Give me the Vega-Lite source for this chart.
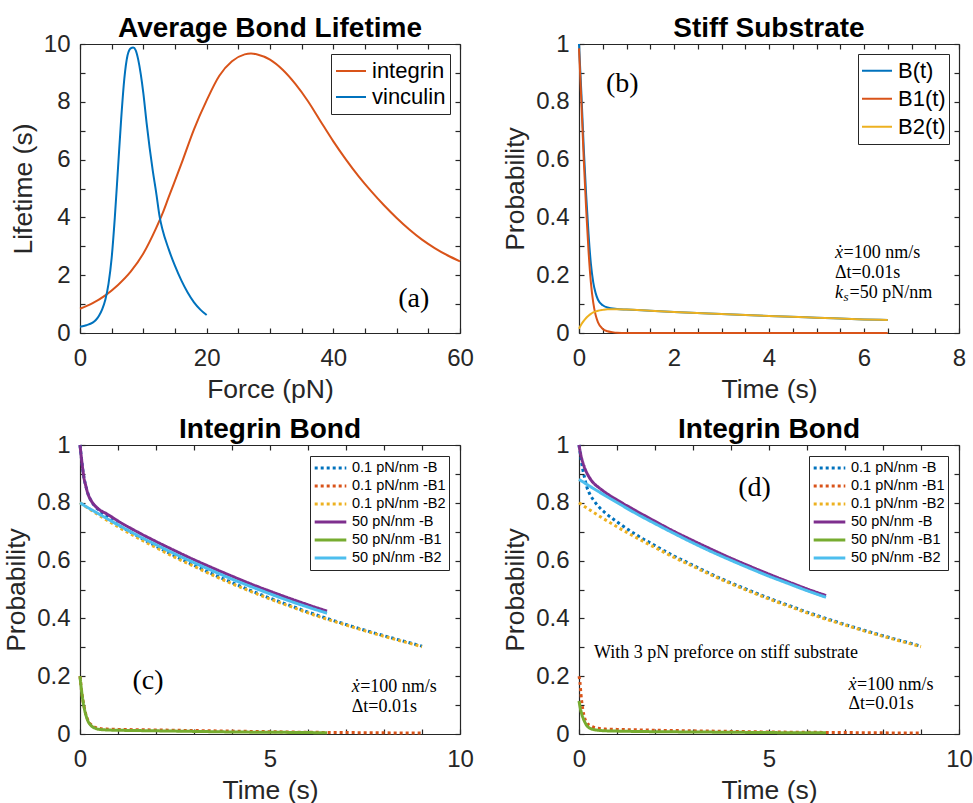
{
  "$schema": "https://vega.github.io/schema/vega-lite/v6.json",
  "background": "white",
  "padding": {"left": 3, "top": 15, "right": 0, "bottom": 0},
  "columns": 2,
  "spacing": {"row": 112, "column": 119},
  "bounds": "flush",
  "config": {
    "font": "Liberation Sans",
    "view": {"stroke": null},
    "axis": {
      "grid": false,
      "domainColor": "#262626",
      "domainWidth": 1.2,
      "tickColor": "#262626",
      "tickWidth": 1.2,
      "tickSize": -5,
      "labelFont": "Liberation Sans",
      "labelFontSize": 24,
      "labelColor": "#262626",
      "labelFlush": false,
      "labelOverlap": false,
      "titleFont": "Liberation Sans",
      "titleFontSize": 26.5,
      "titleFontWeight": "normal",
      "titleColor": "#262626"
    },
    "axisX": {"labelPadding": 18, "titlePadding": 6},
    "axisY": {"labelPadding": 15, "titlePadding": 6},
    "title": {"font": "Liberation Sans", "fontSize": 28, "fontWeight": "bold", "color": "#000000", "offset": -11, "anchor": "middle", "frame": "group"}
  },
  "resolve": {
    "scale": {"color": "independent", "strokeDash": "independent", "strokeWidth": "independent"},
    "legend": {"color": "independent", "strokeDash": "independent"}
  },
  "concat": [
    {
      "width": 380,
      "height": 289,
      "title": {"text": "Average Bond Lifetime"},
      "resolve": {"axis": {"x": "independent", "y": "independent"}},
      "layer": [
        {
          "data": {"values": [
            {"bond": "integrin", "force": 0, "lifetime": 0.84},
            {"bond": "integrin", "force": 2, "lifetime": 1.03},
            {"bond": "integrin", "force": 4, "lifetime": 1.3},
            {"bond": "integrin", "force": 6, "lifetime": 1.66},
            {"bond": "integrin", "force": 8, "lifetime": 2.12},
            {"bond": "integrin", "force": 10, "lifetime": 2.75},
            {"bond": "integrin", "force": 12, "lifetime": 3.62},
            {"bond": "integrin", "force": 13, "lifetime": 4.12},
            {"bond": "integrin", "force": 14, "lifetime": 4.7},
            {"bond": "integrin", "force": 16, "lifetime": 5.85},
            {"bond": "integrin", "force": 18, "lifetime": 7.05},
            {"bond": "integrin", "force": 20, "lifetime": 8.05},
            {"bond": "integrin", "force": 22, "lifetime": 8.9},
            {"bond": "integrin", "force": 24, "lifetime": 9.4},
            {"bond": "integrin", "force": 26, "lifetime": 9.64},
            {"bond": "integrin", "force": 27, "lifetime": 9.67},
            {"bond": "integrin", "force": 28, "lifetime": 9.64},
            {"bond": "integrin", "force": 30, "lifetime": 9.46},
            {"bond": "integrin", "force": 32, "lifetime": 9.11},
            {"bond": "integrin", "force": 34, "lifetime": 8.62},
            {"bond": "integrin", "force": 36, "lifetime": 8.02},
            {"bond": "integrin", "force": 38, "lifetime": 7.32},
            {"bond": "integrin", "force": 40, "lifetime": 6.63},
            {"bond": "integrin", "force": 42, "lifetime": 6.0},
            {"bond": "integrin", "force": 44, "lifetime": 5.42},
            {"bond": "integrin", "force": 46, "lifetime": 4.9},
            {"bond": "integrin", "force": 48, "lifetime": 4.42},
            {"bond": "integrin", "force": 50, "lifetime": 3.98},
            {"bond": "integrin", "force": 52, "lifetime": 3.58},
            {"bond": "integrin", "force": 54, "lifetime": 3.23},
            {"bond": "integrin", "force": 56, "lifetime": 2.94},
            {"bond": "integrin", "force": 58, "lifetime": 2.69},
            {"bond": "integrin", "force": 60, "lifetime": 2.48},
            {"bond": "vinculin", "force": 0, "lifetime": 0.22},
            {"bond": "vinculin", "force": 1, "lifetime": 0.27},
            {"bond": "vinculin", "force": 2, "lifetime": 0.36},
            {"bond": "vinculin", "force": 2.5, "lifetime": 0.45},
            {"bond": "vinculin", "force": 3, "lifetime": 0.6},
            {"bond": "vinculin", "force": 3.5, "lifetime": 0.82},
            {"bond": "vinculin", "force": 4, "lifetime": 1.15},
            {"bond": "vinculin", "force": 4.5, "lifetime": 1.7},
            {"bond": "vinculin", "force": 5, "lifetime": 2.6},
            {"bond": "vinculin", "force": 5.5, "lifetime": 4.0},
            {"bond": "vinculin", "force": 6, "lifetime": 5.7},
            {"bond": "vinculin", "force": 6.5, "lifetime": 7.4},
            {"bond": "vinculin", "force": 7, "lifetime": 8.8},
            {"bond": "vinculin", "force": 7.5, "lifetime": 9.6},
            {"bond": "vinculin", "force": 8, "lifetime": 9.85},
            {"bond": "vinculin", "force": 8.4, "lifetime": 9.88},
            {"bond": "vinculin", "force": 8.8, "lifetime": 9.78},
            {"bond": "vinculin", "force": 9.2, "lifetime": 9.45},
            {"bond": "vinculin", "force": 9.6, "lifetime": 8.95},
            {"bond": "vinculin", "force": 10, "lifetime": 8.3},
            {"bond": "vinculin", "force": 10.5, "lifetime": 7.3},
            {"bond": "vinculin", "force": 11, "lifetime": 6.4},
            {"bond": "vinculin", "force": 11.5, "lifetime": 5.6},
            {"bond": "vinculin", "force": 12, "lifetime": 4.9},
            {"bond": "vinculin", "force": 12.6, "lifetime": 3.99},
            {"bond": "vinculin", "force": 13, "lifetime": 3.6},
            {"bond": "vinculin", "force": 14, "lifetime": 2.9},
            {"bond": "vinculin", "force": 15, "lifetime": 2.32},
            {"bond": "vinculin", "force": 16, "lifetime": 1.82},
            {"bond": "vinculin", "force": 17, "lifetime": 1.4},
            {"bond": "vinculin", "force": 18, "lifetime": 1.06},
            {"bond": "vinculin", "force": 19, "lifetime": 0.81},
            {"bond": "vinculin", "force": 20, "lifetime": 0.62}
          ]},
          "mark": {"type": "line", "strokeWidth": 2, "interpolate": "monotone"},
          "encoding": {
            "x": {"field": "force", "type": "quantitative", "scale": {"domain": [0, 60], "nice": false},
              "axis": {"orient": "bottom", "title": "Force (pN)", "values": [0, 5, 10, 15, 20, 25, 30, 35, 40, 45, 50, 55, 60], "labelExpr": "datum.value % 20 === 0 ? '' + datum.value : ''"}},
            "y": {"field": "lifetime", "type": "quantitative", "scale": {"domain": [0, 10], "nice": false},
              "axis": {"orient": "left", "title": "Lifetime (s)", "values": [0, 1, 2, 3, 4, 5, 6, 7, 8, 9, 10], "labelExpr": "datum.value % 2 === 0 ? '' + datum.value : ''"}},
            "color": {"field": "bond", "type": "nominal",
              "scale": {"domain": ["integrin", "vinculin"], "range": ["#D95319", "#0072BD"]},
              "legend": {"title": null, "orient": "top-right", "offset": 10, "symbolType": "stroke", "symbolSize": 900, "symbolStrokeWidth": 2, "labelFont": "Liberation Sans", "labelFontSize": 22, "labelColor": "#000000", "strokeColor": "#262626", "fillColor": "#ffffff", "padding": 4, "clipHeight": 26, "rowPadding": 0, "labelOffset": 5}}
          }
        },
        {
          "data": {"values": [{"force": 52.7, "lifetime": 1.19, "tag": "(a)"}]},
          "mark": {"type": "text", "font": "Liberation Serif", "fontSize": 28, "align": "center", "baseline": "middle", "color": "#000000"},
          "encoding": {
            "x": {"field": "force", "type": "quantitative", "scale": {"domain": [0, 60], "nice": false},
              "axis": {"orient": "top", "title": null, "labels": false, "values": [0, 5, 10, 15, 20, 25, 30, 35, 40, 45, 50, 55, 60]}},
            "y": {"field": "lifetime", "type": "quantitative", "scale": {"domain": [0, 10], "nice": false},
              "axis": {"orient": "right", "title": null, "labels": false, "values": [0, 1, 2, 3, 4, 5, 6, 7, 8, 9, 10]}},
            "text": {"field": "tag"}
          }
        }
      ]
    },
    {
      "width": 380,
      "height": 289,
      "title": {"text": "Stiff Substrate"},
      "resolve": {"axis": {"x": "independent", "y": "independent"}},
      "layer": [
        {
          "data": {"values": [
            {"state": "B(t)", "time": 0, "prob": 1.0},
            {"state": "B(t)", "time": 0.05, "prob": 0.83},
            {"state": "B(t)", "time": 0.1, "prob": 0.64},
            {"state": "B(t)", "time": 0.15, "prob": 0.48},
            {"state": "B(t)", "time": 0.2, "prob": 0.345},
            {"state": "B(t)", "time": 0.25, "prob": 0.24},
            {"state": "B(t)", "time": 0.3, "prob": 0.175},
            {"state": "B(t)", "time": 0.35, "prob": 0.138},
            {"state": "B(t)", "time": 0.4, "prob": 0.115},
            {"state": "B(t)", "time": 0.5, "prob": 0.096},
            {"state": "B(t)", "time": 0.6, "prob": 0.088},
            {"state": "B(t)", "time": 0.8, "prob": 0.083},
            {"state": "B(t)", "time": 1.0, "prob": 0.081},
            {"state": "B(t)", "time": 1.5, "prob": 0.077},
            {"state": "B(t)", "time": 2, "prob": 0.073},
            {"state": "B(t)", "time": 3, "prob": 0.066},
            {"state": "B(t)", "time": 4, "prob": 0.059},
            {"state": "B(t)", "time": 5, "prob": 0.053},
            {"state": "B(t)", "time": 6, "prob": 0.047},
            {"state": "B(t)", "time": 6.5, "prob": 0.045},
            {"state": "B1(t)", "time": 0, "prob": 0.985},
            {"state": "B1(t)", "time": 0.05, "prob": 0.8},
            {"state": "B1(t)", "time": 0.1, "prob": 0.6},
            {"state": "B1(t)", "time": 0.15, "prob": 0.43},
            {"state": "B1(t)", "time": 0.2, "prob": 0.285},
            {"state": "B1(t)", "time": 0.25, "prob": 0.175},
            {"state": "B1(t)", "time": 0.3, "prob": 0.105},
            {"state": "B1(t)", "time": 0.35, "prob": 0.062},
            {"state": "B1(t)", "time": 0.4, "prob": 0.037},
            {"state": "B1(t)", "time": 0.5, "prob": 0.014},
            {"state": "B1(t)", "time": 0.6, "prob": 0.006},
            {"state": "B1(t)", "time": 0.7, "prob": 0.003},
            {"state": "B1(t)", "time": 0.8, "prob": 0.001},
            {"state": "B1(t)", "time": 1.0, "prob": 0},
            {"state": "B1(t)", "time": 2, "prob": 0},
            {"state": "B1(t)", "time": 4, "prob": 0},
            {"state": "B1(t)", "time": 6.5, "prob": 0},
            {"state": "B2(t)", "time": 0, "prob": 0.015},
            {"state": "B2(t)", "time": 0.05, "prob": 0.03},
            {"state": "B2(t)", "time": 0.1, "prob": 0.042},
            {"state": "B2(t)", "time": 0.15, "prob": 0.052},
            {"state": "B2(t)", "time": 0.2, "prob": 0.06},
            {"state": "B2(t)", "time": 0.25, "prob": 0.066},
            {"state": "B2(t)", "time": 0.3, "prob": 0.071},
            {"state": "B2(t)", "time": 0.4, "prob": 0.077},
            {"state": "B2(t)", "time": 0.5, "prob": 0.08},
            {"state": "B2(t)", "time": 0.6, "prob": 0.082},
            {"state": "B2(t)", "time": 0.8, "prob": 0.082},
            {"state": "B2(t)", "time": 1.0, "prob": 0.081},
            {"state": "B2(t)", "time": 1.5, "prob": 0.077},
            {"state": "B2(t)", "time": 2, "prob": 0.073},
            {"state": "B2(t)", "time": 3, "prob": 0.066},
            {"state": "B2(t)", "time": 4, "prob": 0.059},
            {"state": "B2(t)", "time": 5, "prob": 0.053},
            {"state": "B2(t)", "time": 6, "prob": 0.047},
            {"state": "B2(t)", "time": 6.5, "prob": 0.045}
          ]},
          "mark": {"type": "line", "strokeWidth": 2, "interpolate": "monotone"},
          "encoding": {
            "x": {"field": "time", "type": "quantitative", "scale": {"domain": [0, 8], "nice": false},
              "axis": {"orient": "bottom", "title": "Time (s)", "values": [0, 0.5, 1, 1.5, 2, 2.5, 3, 3.5, 4, 4.5, 5, 5.5, 6, 6.5, 7, 7.5, 8], "labelExpr": "datum.value % 2 === 0 ? '' + datum.value : ''"}},
            "y": {"field": "prob", "type": "quantitative", "scale": {"domain": [0, 1], "nice": false},
              "axis": {"orient": "left", "title": "Probability", "values": [0, 0.1, 0.2, 0.3, 0.4, 0.5, 0.6, 0.7, 0.8, 0.9, 1], "labelExpr": "round(datum.value * 10) % 2 === 0 ? '' + datum.value : ''"}},
            "color": {"field": "state", "type": "nominal",
              "scale": {"domain": ["B(t)", "B1(t)", "B2(t)"], "range": ["#0072BD", "#D95319", "#EDB120"]},
              "legend": {"title": null, "orient": "top-right", "offset": 10, "symbolType": "stroke", "symbolSize": 900, "symbolStrokeWidth": 2, "labelFont": "Liberation Sans", "labelFontSize": 22, "labelColor": "#000000", "strokeColor": "#262626", "fillColor": "#ffffff", "padding": 3, "clipHeight": 27.5, "rowPadding": 0, "labelOffset": 5}}
          }
        },
        {
          "data": {"values": [{"time": 0.91, "prob": 0.863, "tag": "(b)"}]},
          "mark": {"type": "text", "font": "Liberation Serif", "fontSize": 28, "align": "center", "baseline": "middle", "color": "#000000"},
          "encoding": {
            "x": {"field": "time", "type": "quantitative", "scale": {"domain": [0, 8], "nice": false},
              "axis": {"orient": "top", "title": null, "labels": false, "values": [0, 0.5, 1, 1.5, 2, 2.5, 3, 3.5, 4, 4.5, 5, 5.5, 6, 6.5, 7, 7.5, 8]}},
            "y": {"field": "prob", "type": "quantitative", "scale": {"domain": [0, 1], "nice": false},
              "axis": {"orient": "right", "title": null, "labels": false, "values": [0, 0.1, 0.2, 0.3, 0.4, 0.5, 0.6, 0.7, 0.8, 0.9, 1]}},
            "text": {"field": "tag"}
          }
        },
        {
          "data": {"values": [{"time": 5.39, "prob": 0.278, "note": "ẋ"}, {"time": 5.39, "prob": 0.14, "note": "k"}]},
          "mark": {"type": "text", "font": "Liberation Serif", "fontSize": 18, "fontStyle": "italic", "align": "left", "baseline": "middle", "color": "#000000"},
          "encoding": {
            "x": {"field": "time", "type": "quantitative", "axis": null},
            "y": {"field": "prob", "type": "quantitative", "axis": null},
            "text": {"field": "note"}
          }
        },
        {
          "data": {"values": [{"time": 5.39, "prob": 0.14, "note": "s"}]},
          "mark": {"type": "text", "font": "Liberation Serif", "fontSize": 13, "fontStyle": "italic", "align": "left", "baseline": "middle", "dx": 8.5, "dy": 4, "color": "#000000"},
          "encoding": {
            "x": {"field": "time", "type": "quantitative", "axis": null},
            "y": {"field": "prob", "type": "quantitative", "axis": null},
            "text": {"field": "note"}
          }
        },
        {
          "data": {"values": [{"time": 5.39, "prob": 0.278, "note": "=100 nm/s"}]},
          "mark": {"type": "text", "font": "Liberation Serif", "fontSize": 18, "align": "left", "baseline": "middle", "dx": 8.5, "color": "#000000"},
          "encoding": {
            "x": {"field": "time", "type": "quantitative", "axis": null},
            "y": {"field": "prob", "type": "quantitative", "axis": null},
            "text": {"field": "note"}
          }
        },
        {
          "data": {"values": [{"time": 5.39, "prob": 0.14, "note": "=50 pN/nm"}]},
          "mark": {"type": "text", "font": "Liberation Serif", "fontSize": 18, "align": "left", "baseline": "middle", "dx": 14.5, "color": "#000000"},
          "encoding": {
            "x": {"field": "time", "type": "quantitative", "axis": null},
            "y": {"field": "prob", "type": "quantitative", "axis": null},
            "text": {"field": "note"}
          }
        },
        {
          "data": {"values": [{"time": 5.39, "prob": 0.209, "note": "Δt=0.01s"}]},
          "mark": {"type": "text", "font": "Liberation Serif", "fontSize": 18, "align": "left", "baseline": "middle", "color": "#000000"},
          "encoding": {
            "x": {"field": "time", "type": "quantitative", "axis": null},
            "y": {"field": "prob", "type": "quantitative", "axis": null},
            "text": {"field": "note"}
          }
        }
      ]
    },
    {
      "width": 380,
      "height": 289,
      "title": {"text": "Integrin Bond"},
      "resolve": {"axis": {"x": "independent", "y": "independent"}},
      "layer": [
        {
          "data": {"values": [
            {"series": "0.1 pN/nm -B", "time": 0, "prob": 1.0},
            {"series": "0.1 pN/nm -B", "time": 0.05, "prob": 0.94},
            {"series": "0.1 pN/nm -B", "time": 0.1, "prob": 0.89},
            {"series": "0.1 pN/nm -B", "time": 0.15, "prob": 0.86},
            {"series": "0.1 pN/nm -B", "time": 0.2, "prob": 0.835},
            {"series": "0.1 pN/nm -B", "time": 0.3, "prob": 0.805},
            {"series": "0.1 pN/nm -B", "time": 0.4, "prob": 0.787},
            {"series": "0.1 pN/nm -B", "time": 0.5, "prob": 0.774},
            {"series": "0.1 pN/nm -B", "time": 0.7, "prob": 0.753},
            {"series": "0.1 pN/nm -B", "time": 1, "prob": 0.724},
            {"series": "0.1 pN/nm -B", "time": 1.5, "prob": 0.686},
            {"series": "0.1 pN/nm -B", "time": 2, "prob": 0.65},
            {"series": "0.1 pN/nm -B", "time": 2.5, "prob": 0.616},
            {"series": "0.1 pN/nm -B", "time": 3, "prob": 0.584},
            {"series": "0.1 pN/nm -B", "time": 3.5, "prob": 0.553},
            {"series": "0.1 pN/nm -B", "time": 4, "prob": 0.524},
            {"series": "0.1 pN/nm -B", "time": 4.5, "prob": 0.496},
            {"series": "0.1 pN/nm -B", "time": 5, "prob": 0.47},
            {"series": "0.1 pN/nm -B", "time": 5.5, "prob": 0.446},
            {"series": "0.1 pN/nm -B", "time": 6, "prob": 0.422},
            {"series": "0.1 pN/nm -B", "time": 6.5, "prob": 0.4},
            {"series": "0.1 pN/nm -B", "time": 7, "prob": 0.379},
            {"series": "0.1 pN/nm -B", "time": 7.5, "prob": 0.359},
            {"series": "0.1 pN/nm -B", "time": 8, "prob": 0.34},
            {"series": "0.1 pN/nm -B", "time": 8.5, "prob": 0.322},
            {"series": "0.1 pN/nm -B", "time": 9, "prob": 0.304},
            {"series": "0.1 pN/nm -B1", "time": 0, "prob": 0.2},
            {"series": "0.1 pN/nm -B1", "time": 0.05, "prob": 0.14},
            {"series": "0.1 pN/nm -B1", "time": 0.1, "prob": 0.1},
            {"series": "0.1 pN/nm -B1", "time": 0.15, "prob": 0.07},
            {"series": "0.1 pN/nm -B1", "time": 0.2, "prob": 0.05},
            {"series": "0.1 pN/nm -B1", "time": 0.3, "prob": 0.031},
            {"series": "0.1 pN/nm -B1", "time": 0.4, "prob": 0.023},
            {"series": "0.1 pN/nm -B1", "time": 0.5, "prob": 0.019},
            {"series": "0.1 pN/nm -B1", "time": 0.7, "prob": 0.017},
            {"series": "0.1 pN/nm -B1", "time": 1, "prob": 0.016},
            {"series": "0.1 pN/nm -B1", "time": 2, "prob": 0.014},
            {"series": "0.1 pN/nm -B1", "time": 3, "prob": 0.012},
            {"series": "0.1 pN/nm -B1", "time": 4, "prob": 0.01},
            {"series": "0.1 pN/nm -B1", "time": 5, "prob": 0.008},
            {"series": "0.1 pN/nm -B1", "time": 6, "prob": 0.006},
            {"series": "0.1 pN/nm -B1", "time": 7, "prob": 0.005},
            {"series": "0.1 pN/nm -B1", "time": 8, "prob": 0.004},
            {"series": "0.1 pN/nm -B1", "time": 9, "prob": 0.003},
            {"series": "0.1 pN/nm -B2", "time": 0, "prob": 0.8},
            {"series": "0.1 pN/nm -B2", "time": 0.5, "prob": 0.757},
            {"series": "0.1 pN/nm -B2", "time": 1, "prob": 0.717},
            {"series": "0.1 pN/nm -B2", "time": 1.5, "prob": 0.68},
            {"series": "0.1 pN/nm -B2", "time": 2, "prob": 0.645},
            {"series": "0.1 pN/nm -B2", "time": 2.5, "prob": 0.611},
            {"series": "0.1 pN/nm -B2", "time": 3, "prob": 0.58},
            {"series": "0.1 pN/nm -B2", "time": 3.5, "prob": 0.549},
            {"series": "0.1 pN/nm -B2", "time": 4, "prob": 0.52},
            {"series": "0.1 pN/nm -B2", "time": 4.5, "prob": 0.493},
            {"series": "0.1 pN/nm -B2", "time": 5, "prob": 0.467},
            {"series": "0.1 pN/nm -B2", "time": 5.5, "prob": 0.443},
            {"series": "0.1 pN/nm -B2", "time": 6, "prob": 0.419},
            {"series": "0.1 pN/nm -B2", "time": 6.5, "prob": 0.397},
            {"series": "0.1 pN/nm -B2", "time": 7, "prob": 0.377},
            {"series": "0.1 pN/nm -B2", "time": 7.5, "prob": 0.357},
            {"series": "0.1 pN/nm -B2", "time": 8, "prob": 0.338},
            {"series": "0.1 pN/nm -B2", "time": 8.5, "prob": 0.32},
            {"series": "0.1 pN/nm -B2", "time": 9, "prob": 0.302},
            {"series": "50 pN/nm -B", "time": 0, "prob": 1.0},
            {"series": "50 pN/nm -B", "time": 0.05, "prob": 0.94},
            {"series": "50 pN/nm -B", "time": 0.1, "prob": 0.89},
            {"series": "50 pN/nm -B", "time": 0.15, "prob": 0.86},
            {"series": "50 pN/nm -B", "time": 0.2, "prob": 0.835},
            {"series": "50 pN/nm -B", "time": 0.3, "prob": 0.806},
            {"series": "50 pN/nm -B", "time": 0.4, "prob": 0.789},
            {"series": "50 pN/nm -B", "time": 0.5, "prob": 0.777},
            {"series": "50 pN/nm -B", "time": 0.7, "prob": 0.762},
            {"series": "50 pN/nm -B", "time": 1, "prob": 0.737},
            {"series": "50 pN/nm -B", "time": 1.5, "prob": 0.7},
            {"series": "50 pN/nm -B", "time": 2, "prob": 0.666},
            {"series": "50 pN/nm -B", "time": 2.5, "prob": 0.634},
            {"series": "50 pN/nm -B", "time": 3, "prob": 0.603},
            {"series": "50 pN/nm -B", "time": 3.5, "prob": 0.574},
            {"series": "50 pN/nm -B", "time": 4, "prob": 0.546},
            {"series": "50 pN/nm -B", "time": 4.5, "prob": 0.519},
            {"series": "50 pN/nm -B", "time": 5, "prob": 0.494},
            {"series": "50 pN/nm -B", "time": 5.5, "prob": 0.47},
            {"series": "50 pN/nm -B", "time": 6, "prob": 0.447},
            {"series": "50 pN/nm -B", "time": 6.5, "prob": 0.425},
            {"series": "50 pN/nm -B1", "time": 0, "prob": 0.2},
            {"series": "50 pN/nm -B1", "time": 0.05, "prob": 0.14},
            {"series": "50 pN/nm -B1", "time": 0.1, "prob": 0.098},
            {"series": "50 pN/nm -B1", "time": 0.15, "prob": 0.068},
            {"series": "50 pN/nm -B1", "time": 0.2, "prob": 0.048},
            {"series": "50 pN/nm -B1", "time": 0.3, "prob": 0.028},
            {"series": "50 pN/nm -B1", "time": 0.4, "prob": 0.02},
            {"series": "50 pN/nm -B1", "time": 0.5, "prob": 0.016},
            {"series": "50 pN/nm -B1", "time": 0.7, "prob": 0.014},
            {"series": "50 pN/nm -B1", "time": 1, "prob": 0.013},
            {"series": "50 pN/nm -B1", "time": 2, "prob": 0.011},
            {"series": "50 pN/nm -B1", "time": 3, "prob": 0.009},
            {"series": "50 pN/nm -B1", "time": 4, "prob": 0.007},
            {"series": "50 pN/nm -B1", "time": 5, "prob": 0.006},
            {"series": "50 pN/nm -B1", "time": 6, "prob": 0.005},
            {"series": "50 pN/nm -B1", "time": 6.5, "prob": 0.004},
            {"series": "50 pN/nm -B2", "time": 0, "prob": 0.8},
            {"series": "50 pN/nm -B2", "time": 0.25, "prob": 0.78},
            {"series": "50 pN/nm -B2", "time": 0.5, "prob": 0.761},
            {"series": "50 pN/nm -B2", "time": 1, "prob": 0.724},
            {"series": "50 pN/nm -B2", "time": 1.5, "prob": 0.688},
            {"series": "50 pN/nm -B2", "time": 2, "prob": 0.655},
            {"series": "50 pN/nm -B2", "time": 2.5, "prob": 0.623},
            {"series": "50 pN/nm -B2", "time": 3, "prob": 0.593},
            {"series": "50 pN/nm -B2", "time": 3.5, "prob": 0.564},
            {"series": "50 pN/nm -B2", "time": 4, "prob": 0.536},
            {"series": "50 pN/nm -B2", "time": 4.5, "prob": 0.51},
            {"series": "50 pN/nm -B2", "time": 5, "prob": 0.485},
            {"series": "50 pN/nm -B2", "time": 5.5, "prob": 0.461},
            {"series": "50 pN/nm -B2", "time": 6, "prob": 0.439},
            {"series": "50 pN/nm -B2", "time": 6.5, "prob": 0.418}
          ]},
          "mark": {"type": "line", "interpolate": "monotone"},
          "encoding": {
            "x": {"field": "time", "type": "quantitative", "scale": {"domain": [0, 10], "nice": false},
              "axis": {"orient": "bottom", "title": "Time (s)", "values": [0, 1, 2, 3, 4, 5, 6, 7, 8, 9, 10], "labelExpr": "datum.value % 5 === 0 ? '' + datum.value : ''"}},
            "y": {"field": "prob", "type": "quantitative", "scale": {"domain": [0, 1], "nice": false},
              "axis": {"orient": "left", "title": "Probability", "values": [0, 0.1, 0.2, 0.3, 0.4, 0.5, 0.6, 0.7, 0.8, 0.9, 1], "labelExpr": "round(datum.value * 10) % 2 === 0 ? '' + datum.value : ''"}},
            "color": {"field": "series", "type": "nominal",
              "scale": {"domain": ["0.1 pN/nm -B", "0.1 pN/nm -B1", "0.1 pN/nm -B2", "50 pN/nm -B", "50 pN/nm -B1", "50 pN/nm -B2"], "range": ["#0072BD", "#D95319", "#EDB120", "#7E2F8E", "#77AC30", "#4DBEEE"]},
              "legend": {"title": null, "orient": "top-right", "offset": 11, "symbolType": "stroke", "symbolSize": 1000, "symbolStrokeWidth": 3.5, "labelFont": "Liberation Sans", "labelFontSize": 14.5, "labelColor": "#000000", "strokeColor": "#262626", "fillColor": "#ffffff", "padding": 3, "clipHeight": 18, "rowPadding": 0, "labelOffset": 4}},
            "strokeDash": {"field": "series", "type": "nominal",
              "scale": {"domain": ["0.1 pN/nm -B", "0.1 pN/nm -B1", "0.1 pN/nm -B2", "50 pN/nm -B", "50 pN/nm -B1", "50 pN/nm -B2"], "range": [[3, 3], [3, 3], [3, 3], [1, 0], [1, 0], [1, 0]]},
              "legend": {"title": null, "orient": "top-right", "offset": 11, "symbolType": "stroke", "symbolSize": 1000, "symbolStrokeWidth": 3.5, "labelFont": "Liberation Sans", "labelFontSize": 14.5, "labelColor": "#000000", "strokeColor": "#262626", "fillColor": "#ffffff", "padding": 3, "clipHeight": 18, "rowPadding": 0, "labelOffset": 4}},
            "strokeWidth": {"field": "series", "type": "nominal",
              "scale": {"domain": ["0.1 pN/nm -B", "0.1 pN/nm -B1", "0.1 pN/nm -B2", "50 pN/nm -B", "50 pN/nm -B1", "50 pN/nm -B2"], "range": [3, 3, 3, 4, 4, 4]},
              "legend": null}
          }
        },
        {
          "data": {"values": [{"time": 1.79, "prob": 0.183, "tag": "(c)"}]},
          "mark": {"type": "text", "font": "Liberation Serif", "fontSize": 28, "align": "center", "baseline": "middle", "color": "#000000"},
          "encoding": {
            "x": {"field": "time", "type": "quantitative", "scale": {"domain": [0, 10], "nice": false},
              "axis": {"orient": "top", "title": null, "labels": false, "values": [0, 1, 2, 3, 4, 5, 6, 7, 8, 9, 10]}},
            "y": {"field": "prob", "type": "quantitative", "scale": {"domain": [0, 1], "nice": false},
              "axis": {"orient": "right", "title": null, "labels": false, "values": [0, 0.1, 0.2, 0.3, 0.4, 0.5, 0.6, 0.7, 0.8, 0.9, 1]}},
            "text": {"field": "tag"}
          }
        },
        {
          "data": {"values": [{"time": 7.15, "prob": 0.163, "note": "ẋ"}]},
          "mark": {"type": "text", "font": "Liberation Serif", "fontSize": 18, "fontStyle": "italic", "align": "left", "baseline": "middle", "color": "#000000"},
          "encoding": {
            "x": {"field": "time", "type": "quantitative", "axis": null},
            "y": {"field": "prob", "type": "quantitative", "axis": null},
            "text": {"field": "note"}
          }
        },
        {
          "data": {"values": [{"time": 7.15, "prob": 0.163, "note": "=100 nm/s"}]},
          "mark": {"type": "text", "font": "Liberation Serif", "fontSize": 18, "align": "left", "baseline": "middle", "dx": 8.5, "color": "#000000"},
          "encoding": {
            "x": {"field": "time", "type": "quantitative", "axis": null},
            "y": {"field": "prob", "type": "quantitative", "axis": null},
            "text": {"field": "note"}
          }
        },
        {
          "data": {"values": [{"time": 7.15, "prob": 0.093, "note": "Δt=0.01s"}]},
          "mark": {"type": "text", "font": "Liberation Serif", "fontSize": 18, "align": "left", "baseline": "middle", "color": "#000000"},
          "encoding": {
            "x": {"field": "time", "type": "quantitative", "axis": null},
            "y": {"field": "prob", "type": "quantitative", "axis": null},
            "text": {"field": "note"}
          }
        }
      ]
    },
    {
      "width": 380,
      "height": 289,
      "title": {"text": "Integrin Bond"},
      "resolve": {"axis": {"x": "independent", "y": "independent"}},
      "layer": [
        {
          "data": {"values": [
            {"series": "0.1 pN/nm -B", "time": 0, "prob": 1.0},
            {"series": "0.1 pN/nm -B", "time": 0.05, "prob": 0.955},
            {"series": "0.1 pN/nm -B", "time": 0.1, "prob": 0.915},
            {"series": "0.1 pN/nm -B", "time": 0.15, "prob": 0.885},
            {"series": "0.1 pN/nm -B", "time": 0.2, "prob": 0.858},
            {"series": "0.1 pN/nm -B", "time": 0.3, "prob": 0.826},
            {"series": "0.1 pN/nm -B", "time": 0.4, "prob": 0.806},
            {"series": "0.1 pN/nm -B", "time": 0.5, "prob": 0.789},
            {"series": "0.1 pN/nm -B", "time": 0.7, "prob": 0.764},
            {"series": "0.1 pN/nm -B", "time": 1, "prob": 0.734},
            {"series": "0.1 pN/nm -B", "time": 1.5, "prob": 0.69},
            {"series": "0.1 pN/nm -B", "time": 2, "prob": 0.652},
            {"series": "0.1 pN/nm -B", "time": 2.5, "prob": 0.616},
            {"series": "0.1 pN/nm -B", "time": 3, "prob": 0.584},
            {"series": "0.1 pN/nm -B", "time": 3.5, "prob": 0.552},
            {"series": "0.1 pN/nm -B", "time": 4, "prob": 0.523},
            {"series": "0.1 pN/nm -B", "time": 4.5, "prob": 0.496},
            {"series": "0.1 pN/nm -B", "time": 5, "prob": 0.47},
            {"series": "0.1 pN/nm -B", "time": 5.5, "prob": 0.446},
            {"series": "0.1 pN/nm -B", "time": 6, "prob": 0.422},
            {"series": "0.1 pN/nm -B", "time": 6.5, "prob": 0.4},
            {"series": "0.1 pN/nm -B", "time": 7, "prob": 0.379},
            {"series": "0.1 pN/nm -B", "time": 7.5, "prob": 0.359},
            {"series": "0.1 pN/nm -B", "time": 8, "prob": 0.34},
            {"series": "0.1 pN/nm -B", "time": 8.5, "prob": 0.322},
            {"series": "0.1 pN/nm -B", "time": 9, "prob": 0.304},
            {"series": "0.1 pN/nm -B1", "time": 0, "prob": 0.2},
            {"series": "0.1 pN/nm -B1", "time": 0.025, "prob": 0.18},
            {"series": "0.1 pN/nm -B1", "time": 0.05, "prob": 0.14},
            {"series": "0.1 pN/nm -B1", "time": 0.1, "prob": 0.085},
            {"series": "0.1 pN/nm -B1", "time": 0.15, "prob": 0.055},
            {"series": "0.1 pN/nm -B1", "time": 0.2, "prob": 0.04},
            {"series": "0.1 pN/nm -B1", "time": 0.3, "prob": 0.029},
            {"series": "0.1 pN/nm -B1", "time": 0.4, "prob": 0.023},
            {"series": "0.1 pN/nm -B1", "time": 0.5, "prob": 0.02},
            {"series": "0.1 pN/nm -B1", "time": 0.7, "prob": 0.017},
            {"series": "0.1 pN/nm -B1", "time": 1, "prob": 0.016},
            {"series": "0.1 pN/nm -B1", "time": 2, "prob": 0.013},
            {"series": "0.1 pN/nm -B1", "time": 3, "prob": 0.011},
            {"series": "0.1 pN/nm -B1", "time": 4, "prob": 0.009},
            {"series": "0.1 pN/nm -B1", "time": 5, "prob": 0.007},
            {"series": "0.1 pN/nm -B1", "time": 6, "prob": 0.006},
            {"series": "0.1 pN/nm -B1", "time": 7, "prob": 0.005},
            {"series": "0.1 pN/nm -B1", "time": 8, "prob": 0.004},
            {"series": "0.1 pN/nm -B1", "time": 9, "prob": 0.003},
            {"series": "0.1 pN/nm -B2", "time": 0, "prob": 0.8},
            {"series": "0.1 pN/nm -B2", "time": 0.5, "prob": 0.757},
            {"series": "0.1 pN/nm -B2", "time": 1, "prob": 0.717},
            {"series": "0.1 pN/nm -B2", "time": 1.5, "prob": 0.68},
            {"series": "0.1 pN/nm -B2", "time": 2, "prob": 0.645},
            {"series": "0.1 pN/nm -B2", "time": 2.5, "prob": 0.611},
            {"series": "0.1 pN/nm -B2", "time": 3, "prob": 0.58},
            {"series": "0.1 pN/nm -B2", "time": 3.5, "prob": 0.549},
            {"series": "0.1 pN/nm -B2", "time": 4, "prob": 0.52},
            {"series": "0.1 pN/nm -B2", "time": 4.5, "prob": 0.493},
            {"series": "0.1 pN/nm -B2", "time": 5, "prob": 0.467},
            {"series": "0.1 pN/nm -B2", "time": 5.5, "prob": 0.443},
            {"series": "0.1 pN/nm -B2", "time": 6, "prob": 0.419},
            {"series": "0.1 pN/nm -B2", "time": 6.5, "prob": 0.397},
            {"series": "0.1 pN/nm -B2", "time": 7, "prob": 0.377},
            {"series": "0.1 pN/nm -B2", "time": 7.5, "prob": 0.357},
            {"series": "0.1 pN/nm -B2", "time": 8, "prob": 0.338},
            {"series": "0.1 pN/nm -B2", "time": 8.5, "prob": 0.32},
            {"series": "0.1 pN/nm -B2", "time": 9, "prob": 0.302},
            {"series": "50 pN/nm -B", "time": 0, "prob": 1.0},
            {"series": "50 pN/nm -B", "time": 0.05, "prob": 0.965},
            {"series": "50 pN/nm -B", "time": 0.1, "prob": 0.94},
            {"series": "50 pN/nm -B", "time": 0.15, "prob": 0.92},
            {"series": "50 pN/nm -B", "time": 0.2, "prob": 0.905},
            {"series": "50 pN/nm -B", "time": 0.3, "prob": 0.882},
            {"series": "50 pN/nm -B", "time": 0.4, "prob": 0.866},
            {"series": "50 pN/nm -B", "time": 0.5, "prob": 0.855},
            {"series": "50 pN/nm -B", "time": 0.7, "prob": 0.835},
            {"series": "50 pN/nm -B", "time": 1, "prob": 0.81},
            {"series": "50 pN/nm -B", "time": 1.5, "prob": 0.772},
            {"series": "50 pN/nm -B", "time": 2, "prob": 0.736},
            {"series": "50 pN/nm -B", "time": 2.5, "prob": 0.701},
            {"series": "50 pN/nm -B", "time": 3, "prob": 0.669},
            {"series": "50 pN/nm -B", "time": 3.5, "prob": 0.638},
            {"series": "50 pN/nm -B", "time": 4, "prob": 0.608},
            {"series": "50 pN/nm -B", "time": 4.5, "prob": 0.58},
            {"series": "50 pN/nm -B", "time": 5, "prob": 0.553},
            {"series": "50 pN/nm -B", "time": 5.5, "prob": 0.527},
            {"series": "50 pN/nm -B", "time": 6, "prob": 0.502},
            {"series": "50 pN/nm -B", "time": 6.5, "prob": 0.479},
            {"series": "50 pN/nm -B1", "time": 0, "prob": 0.114},
            {"series": "50 pN/nm -B1", "time": 0.05, "prob": 0.08},
            {"series": "50 pN/nm -B1", "time": 0.1, "prob": 0.058},
            {"series": "50 pN/nm -B1", "time": 0.15, "prob": 0.042},
            {"series": "50 pN/nm -B1", "time": 0.2, "prob": 0.03},
            {"series": "50 pN/nm -B1", "time": 0.3, "prob": 0.019},
            {"series": "50 pN/nm -B1", "time": 0.4, "prob": 0.015},
            {"series": "50 pN/nm -B1", "time": 0.5, "prob": 0.013},
            {"series": "50 pN/nm -B1", "time": 0.7, "prob": 0.011},
            {"series": "50 pN/nm -B1", "time": 1, "prob": 0.01},
            {"series": "50 pN/nm -B1", "time": 2, "prob": 0.008},
            {"series": "50 pN/nm -B1", "time": 3, "prob": 0.007},
            {"series": "50 pN/nm -B1", "time": 4, "prob": 0.006},
            {"series": "50 pN/nm -B1", "time": 5, "prob": 0.005},
            {"series": "50 pN/nm -B1", "time": 6, "prob": 0.004},
            {"series": "50 pN/nm -B1", "time": 6.5, "prob": 0.004},
            {"series": "50 pN/nm -B2", "time": 0, "prob": 0.881},
            {"series": "50 pN/nm -B2", "time": 0.5, "prob": 0.84},
            {"series": "50 pN/nm -B2", "time": 1, "prob": 0.801},
            {"series": "50 pN/nm -B2", "time": 1.5, "prob": 0.763},
            {"series": "50 pN/nm -B2", "time": 2, "prob": 0.728},
            {"series": "50 pN/nm -B2", "time": 2.5, "prob": 0.694},
            {"series": "50 pN/nm -B2", "time": 3, "prob": 0.661},
            {"series": "50 pN/nm -B2", "time": 3.5, "prob": 0.63},
            {"series": "50 pN/nm -B2", "time": 4, "prob": 0.601},
            {"series": "50 pN/nm -B2", "time": 4.5, "prob": 0.573},
            {"series": "50 pN/nm -B2", "time": 5, "prob": 0.546},
            {"series": "50 pN/nm -B2", "time": 5.5, "prob": 0.521},
            {"series": "50 pN/nm -B2", "time": 6, "prob": 0.496},
            {"series": "50 pN/nm -B2", "time": 6.5, "prob": 0.473}
          ]},
          "mark": {"type": "line", "interpolate": "monotone"},
          "encoding": {
            "x": {"field": "time", "type": "quantitative", "scale": {"domain": [0, 10], "nice": false},
              "axis": {"orient": "bottom", "title": "Time (s)", "values": [0, 1, 2, 3, 4, 5, 6, 7, 8, 9, 10], "labelExpr": "datum.value % 5 === 0 ? '' + datum.value : ''"}},
            "y": {"field": "prob", "type": "quantitative", "scale": {"domain": [0, 1], "nice": false},
              "axis": {"orient": "left", "title": "Probability", "values": [0, 0.1, 0.2, 0.3, 0.4, 0.5, 0.6, 0.7, 0.8, 0.9, 1], "labelExpr": "round(datum.value * 10) % 2 === 0 ? '' + datum.value : ''"}},
            "color": {"field": "series", "type": "nominal",
              "scale": {"domain": ["0.1 pN/nm -B", "0.1 pN/nm -B1", "0.1 pN/nm -B2", "50 pN/nm -B", "50 pN/nm -B1", "50 pN/nm -B2"], "range": ["#0072BD", "#D95319", "#EDB120", "#7E2F8E", "#77AC30", "#4DBEEE"]},
              "legend": {"title": null, "orient": "top-right", "offset": 11, "symbolType": "stroke", "symbolSize": 1000, "symbolStrokeWidth": 3.5, "labelFont": "Liberation Sans", "labelFontSize": 14.5, "labelColor": "#000000", "strokeColor": "#262626", "fillColor": "#ffffff", "padding": 3, "clipHeight": 18, "rowPadding": 0, "labelOffset": 4}},
            "strokeDash": {"field": "series", "type": "nominal",
              "scale": {"domain": ["0.1 pN/nm -B", "0.1 pN/nm -B1", "0.1 pN/nm -B2", "50 pN/nm -B", "50 pN/nm -B1", "50 pN/nm -B2"], "range": [[3, 3], [3, 3], [3, 3], [1, 0], [1, 0], [1, 0]]},
              "legend": {"title": null, "orient": "top-right", "offset": 11, "symbolType": "stroke", "symbolSize": 1000, "symbolStrokeWidth": 3.5, "labelFont": "Liberation Sans", "labelFontSize": 14.5, "labelColor": "#000000", "strokeColor": "#262626", "fillColor": "#ffffff", "padding": 3, "clipHeight": 18, "rowPadding": 0, "labelOffset": 4}},
            "strokeWidth": {"field": "series", "type": "nominal",
              "scale": {"domain": ["0.1 pN/nm -B", "0.1 pN/nm -B1", "0.1 pN/nm -B2", "50 pN/nm -B", "50 pN/nm -B1", "50 pN/nm -B2"], "range": [3, 3, 3, 4, 4, 4]},
              "legend": null}
          }
        },
        {
          "data": {"values": [{"time": 4.62, "prob": 0.851, "tag": "(d)"}]},
          "mark": {"type": "text", "font": "Liberation Serif", "fontSize": 28, "align": "center", "baseline": "middle", "color": "#000000"},
          "encoding": {
            "x": {"field": "time", "type": "quantitative", "scale": {"domain": [0, 10], "nice": false},
              "axis": {"orient": "top", "title": null, "labels": false, "values": [0, 1, 2, 3, 4, 5, 6, 7, 8, 9, 10]}},
            "y": {"field": "prob", "type": "quantitative", "scale": {"domain": [0, 1], "nice": false},
              "axis": {"orient": "right", "title": null, "labels": false, "values": [0, 0.1, 0.2, 0.3, 0.4, 0.5, 0.6, 0.7, 0.8, 0.9, 1]}},
            "text": {"field": "tag"}
          }
        },
        {
          "data": {"values": [{"time": 7.09, "prob": 0.17, "note": "ẋ"}]},
          "mark": {"type": "text", "font": "Liberation Serif", "fontSize": 18, "fontStyle": "italic", "align": "left", "baseline": "middle", "color": "#000000"},
          "encoding": {
            "x": {"field": "time", "type": "quantitative", "axis": null},
            "y": {"field": "prob", "type": "quantitative", "axis": null},
            "text": {"field": "note"}
          }
        },
        {
          "data": {"values": [{"time": 7.09, "prob": 0.17, "note": "=100 nm/s"}]},
          "mark": {"type": "text", "font": "Liberation Serif", "fontSize": 18, "align": "left", "baseline": "middle", "dx": 8.5, "color": "#000000"},
          "encoding": {
            "x": {"field": "time", "type": "quantitative", "axis": null},
            "y": {"field": "prob", "type": "quantitative", "axis": null},
            "text": {"field": "note"}
          }
        },
        {
          "data": {"values": [
            {"time": 7.09, "prob": 0.103, "note": "Δt=0.01s"},
            {"time": 0.395, "prob": 0.281, "note": "With 3 pN preforce on stiff substrate"}
          ]},
          "mark": {"type": "text", "font": "Liberation Serif", "fontSize": 18, "align": "left", "baseline": "middle", "color": "#000000"},
          "encoding": {
            "x": {"field": "time", "type": "quantitative", "axis": null},
            "y": {"field": "prob", "type": "quantitative", "axis": null},
            "text": {"field": "note"}
          }
        }
      ]
    }
  ]
}
